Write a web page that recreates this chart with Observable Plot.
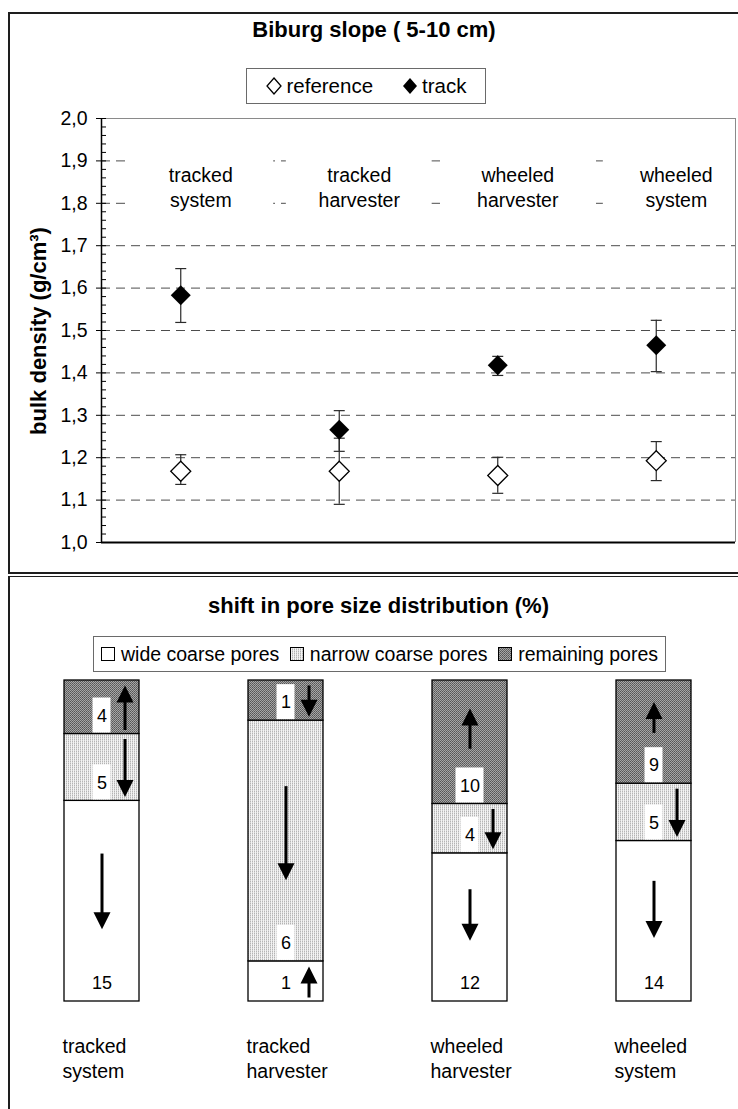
<!DOCTYPE html>
<html>
<head>
<meta charset="utf-8">
<script src="https://cdn.jsdelivr.net/npm/d3@7"></script>
<script src="https://cdn.jsdelivr.net/npm/@observablehq/plot@0.6"></script>
<style>
  html, body { margin: 0; padding: 0; background: #fff; }
  body { width: 738px; height: 1109px; position: relative; overflow: hidden;
         font-family: "Liberation Sans", Arial, Helvetica, sans-serif; color: #000; }
  .abs { position: absolute; }
  .title { font-weight: bold; font-size: 22px; line-height: 26px; text-align: center; white-space: nowrap; }
  .legend { box-sizing: border-box; border: 1px solid #6a6a6a; display: flex; align-items: center; white-space: nowrap; }
  .legend .item { display: flex; align-items: center; }
  .legend svg { display: block; }
</style>
</head>
<body>
<svg width="0" height="0" style="position:absolute">
  <defs>
    <pattern id="narrowPat" width="2" height="2" patternUnits="userSpaceOnUse">
      <rect width="2" height="2" fill="#f3f3f3"/>
      <rect x="0" y="0" width="1" height="1" fill="#b4b4b4"/>
      <rect x="0" y="1" width="1" height="1" fill="#d6d6d6"/>
    </pattern>
    <pattern id="remPat" width="2" height="2" patternUnits="userSpaceOnUse">
      <rect width="2" height="2" fill="#a6a6a6"/>
      <rect x="0" y="0" width="1" height="1" fill="#555"/>
      <rect x="1" y="1" width="1" height="1" fill="#666"/>
    </pattern>
  </defs>
</svg>

<div class="abs" style="left:8px;top:12px;width:745px;height:562px;box-sizing:border-box;border:2px solid #1e1e1e;"></div>
<div class="abs" style="left:8px;top:576px;width:745px;height:560px;box-sizing:border-box;border-top:1.5px solid #1e1e1e;border-left:2px solid #1e1e1e;"></div>

<div id="topChart" class="abs" style="left:0;top:0;"></div>
<div id="bottomChart" class="abs" style="left:0;top:577px;"></div>

<div class="abs title" style="left:0;width:748px;top:17px;">Biburg slope ( 5-10 cm)</div>
<div class="abs legend" style="left:246px;top:68px;width:240px;height:36px;font-size:20.5px;justify-content:center;gap:28px;">
  <div class="item"><svg width="18" height="18" viewBox="-9 -9 18 18"><path d="M0,-8L7,0L0,8L-7,0Z" fill="#fff" stroke="#000" stroke-width="1.3"/></svg><span style="margin-left:3px">reference</span></div>
  <div class="item"><svg width="18" height="18" viewBox="-9 -9 18 18"><path d="M0,-8L7,0L0,8L-7,0Z" fill="#000"/></svg><span style="margin-left:3px">track</span></div>
</div>
<div class="abs" style="left:39px;top:331px;transform:translate(-50%,-50%) rotate(-90deg);font-weight:bold;font-size:22px;line-height:1;white-space:nowrap;">bulk density (g/cm³)</div>

<div class="abs title" style="left:0;width:757px;top:593px;">shift in pore size distribution (%)</div>
<div class="abs legend" style="left:93px;top:636px;width:573px;height:36px;font-size:19.5px;justify-content:space-between;padding:0 7px;">
  <div class="item"><svg width="15" height="15"><rect x="0.5" y="0.5" width="13" height="13" fill="#fff" stroke="#000"/></svg><span style="margin-left:5px">wide coarse pores</span></div>
  <div class="item"><svg width="15" height="15"><rect x="0.5" y="0.5" width="13" height="13" fill="url(#narrowPat)" stroke="#000"/></svg><span style="margin-left:5px">narrow coarse pores</span></div>
  <div class="item"><svg width="15" height="15"><rect x="0.5" y="0.5" width="13" height="13" fill="url(#remPat)" stroke="#000"/></svg><span style="margin-left:5px">remaining pores</span></div>
</div>

<script>
const FONT = '"Liberation Sans", Arial, Helvetica, sans-serif';

// ---------- data: bulk density (g/cm³) ----------
const systems = ["tracked system", "tracked harvester", "wheeled harvester", "wheeled system"];
const refMean   = [1.168, 1.168, 1.158, 1.193];
const refLow    = [1.137, 1.090, 1.116, 1.146];
const refHigh   = [1.207, 1.246, 1.201, 1.238];
const trackMean = [1.583, 1.266, 1.418, 1.465];
const trackLow  = [1.519, 1.215, 1.394, 1.403];
const trackHigh = [1.646, 1.311, 1.439, 1.524];
const yTicks = [1.0, 1.1, 1.2, 1.3, 1.4, 1.5, 1.6, 1.7, 1.8, 1.9, 2.0];
const gridValues = [1.1, 1.2, 1.3, 1.4, 1.5, 1.6, 1.7, 1.8, 1.9];
const minorTicks = d3.range(50, 101).map(k => k / 50);

// ---------- data: shift in pore size distribution (%) ----------
const poreClasses = ["wide coarse pores", "narrow coarse pores", "remaining pores"];
const wideShift      = [15, 1, 12, 14];
const narrowShift    = [5, 6, 4, 5];
const remainingShift = [4, 1, 10, 9];
const wideDir      = [-1, 1, -1, -1];
const narrowDir    = [-1, -1, -1, -1];
const remainingDir = [1, -1, 1, 1];

const fmt = d => d.toFixed(1).replace(".", ",");

// ---------- top chart ----------
const pts = systems.map((s, i) => ({
  system: s, xi: i + 0.5,
  ref: refMean[i], refLo: refLow[i], refHi: refHigh[i],
  track: trackMean[i], trLo: trackLow[i], trHi: trackHigh[i]
}));
const cap = {draw(ctx) { ctx.moveTo(-5.5, 0); ctx.lineTo(5.5, 0); }};
const EB = "#2a2a2a";

const topChart = Plot.plot({
  width: 738, height: 570,
  marginTop: 118, marginBottom: 28, marginLeft: 101, marginRight: 3,
  x: {domain: [0, 4], axis: null},
  y: {domain: [1, 2], label: null},
  style: {fontFamily: FONT, fontSize: "19.5px", color: "#000", background: "none", overflow: "visible"},
  marks: [
    Plot.ruleY(gridValues, {stroke: "#4d4d4d", strokeWidth: 1, strokeDasharray: "9,6"}),
    Plot.rect(pts, {x1: d => d.xi - 0.46, x2: d => d.xi + 0.46, y1: 1.77, y2: 1.935, fill: "white", dx: 20}),
    Plot.text(pts, {x: "xi", y: 1.84, text: d => d.system.replace(" ", "\n"), dx: 20,
      lineAnchor: "middle", lineHeight: 1.28, fontSize: 19.5, fill: "#000"}),
    Plot.ruleY([2], {stroke: "#8a8a8a", strokeWidth: 1}),
    Plot.ruleX([4], {stroke: "#8a8a8a", strokeWidth: 1}),
    Plot.axisY({ticks: minorTicks, tickSize: 5, dx: 5, tickFormat: () => "", label: null}),
    Plot.axisY({ticks: yTicks, tickSize: 5, tickPadding: 9, tickFormat: fmt, label: null, fontSize: 19.5}),
    Plot.ruleX([0], {stroke: "#000", strokeWidth: 1.5}),
    Plot.ruleY([1], {stroke: "#000", strokeWidth: 2}),
    // error bars
    Plot.ruleX(pts, {x: "xi", y1: "refLo", y2: "refHi", stroke: EB, strokeWidth: 1.2}),
    Plot.dot(pts, {x: "xi", y: "refLo", symbol: cap, stroke: EB, fill: "none", strokeWidth: 1.2}),
    Plot.dot(pts, {x: "xi", y: "refHi", symbol: cap, stroke: EB, fill: "none", strokeWidth: 1.2}),
    Plot.ruleX(pts, {x: "xi", y1: "trLo", y2: "trHi", stroke: EB, strokeWidth: 1.2}),
    Plot.dot(pts, {x: "xi", y: "trLo", symbol: cap, stroke: EB, fill: "none", strokeWidth: 1.2}),
    Plot.dot(pts, {x: "xi", y: "trHi", symbol: cap, stroke: EB, fill: "none", strokeWidth: 1.2}),
    // markers
    Plot.dot(pts, {x: "xi", y: "ref", symbol: "diamond2", r: 9, fill: "white", stroke: "#000", strokeWidth: 1.3}),
    Plot.dot(pts, {x: "xi", y: "track", symbol: "diamond2", r: 9, fill: "#000", stroke: "none"})
  ]
});
document.getElementById("topChart").appendChild(topChart);

// ---------- bottom chart ----------
const INNER_H = 321;           // px height of the bar area
const px = 1 / INNER_H;
const fills = {"wide coarse pores": "white", "narrow coarse pores": "url(#narrowPat)", "remaining pores": "url(#remPat)"};
const rows = [];
systems.forEach((s, i) => {
  const vals = [wideShift[i], narrowShift[i], remainingShift[i]];
  const dirs = [wideDir[i], narrowDir[i], remainingDir[i]];
  const total = d3.sum(vals);
  let acc = 0;
  poreClasses.forEach((cls, k) => {
    const y1 = acc / total, y2 = (acc + vals[k]) / total;
    acc += vals[k];
    rows.push({system: s, cls, value: vals[k], dir: dirs[k], y1, y2, frac: vals[k] / total});
  });
});
const HEAD = 17;
rows.forEach(r => {
  r.side = r.frac < 0.25;
  let a, b;
  if (r.side) { a = r.y2 - 5 * px; b = r.y1 + 4 * px; }
  else {
    const topE = r.y2, botE = r.y1 + 36 * px;
    const space = topE - botE;
    const mid = botE + 0.45 * space, half = space * 0.23;
    a = mid + half; b = mid - half;
  }
  r.tip = r.dir > 0 ? a : b;
  r.tail = r.dir > 0 ? b : a;
  r.shaftEnd = r.tip - r.dir * (HEAD - 4) * px;
});
const headDown = {draw(ctx) { ctx.moveTo(0, 0); ctx.lineTo(-HEAD / 2, -HEAD); ctx.lineTo(HEAD / 2, -HEAD); ctx.closePath(); }};
const headUp   = {draw(ctx) { ctx.moveTo(0, 0); ctx.lineTo(-HEAD / 2, HEAD); ctx.lineTo(HEAD / 2, HEAD); ctx.closePath(); }};

function arrowMarks(subset, dx) {
  return [
    Plot.link(subset, {x1: "system", x2: "system", y1: "tail", y2: "shaftEnd", stroke: "#000", strokeWidth: 3, dx}),
    Plot.dot(subset.filter(d => d.dir < 0), {x: "system", y: "tip", symbol: headDown, fill: "#000", stroke: "none", dx}),
    Plot.dot(subset.filter(d => d.dir > 0), {x: "system", y: "tip", symbol: headUp, fill: "#000", stroke: "none", dx})
  ];
}

const bottomChart = Plot.plot({
  width: 738, height: 532,
  marginTop: 103, marginBottom: 108, marginLeft: 25.6, marginRight: 9.4,
  x: {domain: systems, paddingInner: 0.594, paddingOuter: 0.2, axis: null},
  y: {domain: [0, 1], axis: null},
  style: {fontFamily: FONT, fontSize: "19.5px", color: "#000", background: "none", overflow: "visible"},
  marks: [
    Plot.barY(rows, {x: "system", y1: "y1", y2: "y2", fill: d => fills[d.cls], stroke: "#000", strokeWidth: 1.3}),
    Plot.barY(rows.filter(d => String(d.value).length === 1),
      {x: "system", y1: d => d.y1 + 1 * px, y2: d => d.y1 + 36 * px, fill: "white", insetLeft: 28.5, insetRight: 28.5}),
    Plot.barY(rows.filter(d => String(d.value).length > 1),
      {x: "system", y1: d => d.y1 + 1 * px, y2: d => d.y1 + 36 * px, fill: "white", insetLeft: 23.5, insetRight: 23.5}),
    Plot.text(rows, {x: "system", y: d => d.y1 + 18 * px, text: d => String(d.value), fontSize: 18, fill: "#000"}),
    ...arrowMarks(rows.filter(d => d.side), 23),
    ...arrowMarks(rows.filter(d => !d.side), 0),
    Plot.text(systems, {x: d => d, y: 0, text: d => d.replace(" ", "\n"), textAnchor: "start",
      lineAnchor: "middle", lineHeight: 1.28, dx: -39.5, dy: 56, fontSize: 19.5, fill: "#000"})
  ]
});
document.getElementById("bottomChart").appendChild(bottomChart);
</script>
</body>
</html>
